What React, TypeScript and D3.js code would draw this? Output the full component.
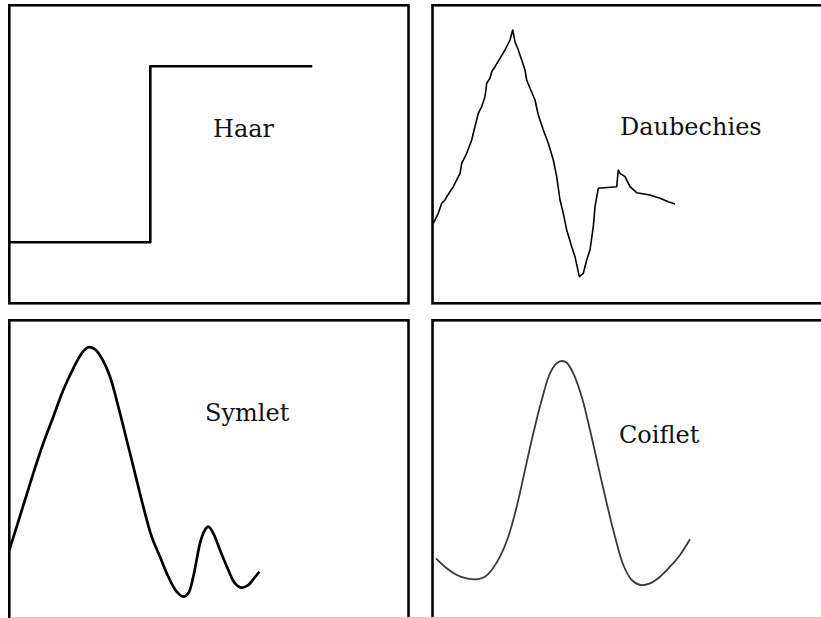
import React from "react";
import * as d3 from "d3";

// Wavelet shapes (x: samples across panel, y: amplitude units)
const haarX = [0, 141, 141, 303];
const haarY = [61, 61, 237, 237];

const daubX = [0.8, 5.8, 9.2, 12.5, 14.2, 20.8, 27.5, 29.2, 34.2, 39.2, 40.8, 45.8, 49.2, 52.5, 54.2, 57.5, 59.2, 62.5, 67.5, 72.5, 77.5, 80.2, 82.5, 85.8, 89.2, 92.5, 94.2, 97.5, 102.5, 105.8, 110.8, 115.8, 120.8, 124.2, 127.5, 130.8, 134.2, 139.2, 142.5, 146.8, 150.8, 154.2, 157.5, 160.8, 162.5, 165.8, 184.2, 185.8, 187.5, 192.5, 197.5, 204.2, 217.5, 227.5, 235.8, 242.5];
const daubY = [80, 90, 100, 103.3, 106.6, 116.6, 130, 140, 150, 163.3, 170, 190, 196.6, 206.6, 220, 225, 231.6, 236.6, 245, 253.3, 263.3, 273.3, 261.6, 253.3, 243.3, 233.3, 223.3, 215, 203.3, 188.3, 173.3, 160, 143.3, 126.6, 103.3, 90, 73.3, 56.6, 46.6, 26.6, 30, 43.3, 53.3, 76.6, 96.6, 115, 116.6, 133.3, 130, 126.6, 116.6, 110.6, 108.3, 105, 101.6, 99.3];

const symX = [0, 7.4, 15.7, 24, 34, 44, 54, 64, 72.4, 79, 85.7, 92.4, 100.7, 109, 117.4, 125.7, 134, 142.4, 150.7, 159, 167.4, 174, 179, 184, 190.7, 194.7, 199, 204, 210.7, 219, 225.7, 232.4, 239, 244, 250];
const symY = [68.3, 91.6, 118.3, 145, 175, 201.6, 228.3, 250, 265, 271, 269, 260, 241.6, 211.6, 178.3, 145, 111.6, 81.6, 61.6, 41.6, 26.6, 21.6, 25, 41.6, 75, 86.6, 91.6, 85, 68.3, 48.3, 35, 30.6, 33.3, 39, 46.6];

const coifX = [3.5, 14.2, 24.2, 34.2, 44.2, 52.5, 59.2, 67.5, 75.8, 84.2, 92.5, 100.8, 109.2, 117.5, 124.2, 129.2, 134.2, 140.8, 149.2, 157.5, 165.8, 174.2, 182.5, 190.8, 199.2, 207.5, 217.5, 227.5, 237.5, 247.5, 257.5];
const coifY = [60, 50, 43.3, 40, 39, 41.6, 48.3, 61.6, 81.6, 111.6, 148.3, 185, 218.3, 245, 255, 257.3, 255.6, 245, 221.6, 188.3, 151.6, 115, 81.6, 53.3, 38.3, 33.3, 35, 41.6, 51.6, 63.3, 79];

const labels = ["Haar", "Daubechies", "Symlet", "Coiflet"];

const PW = 399.2;
const PH = 298;
const panels = [
  { left: 9.3, top: 5.3, xs: haarX, ys: haarY, curve: d3.curveLinear, sw: 2.6, color: "#000", lx: 213, ly: 137 },
  { left: 432.5, top: 5.3, xs: daubX, ys: daubY, curve: d3.curveLinear, sw: 1.6, color: "#000", lx: 620, ly: 135 },
  { left: 9.3, top: 320.3, xs: symX, ys: symY, curve: d3.curveCatmullRom, sw: 2.7, color: "#000", lx: 205, ly: 421 },
  { left: 432.5, top: 320.3, xs: coifX, ys: coifY, curve: d3.curveCatmullRom, sw: 1.8, color: "#3a3a3a", lx: 619, ly: 443 },
];

export default function App() {
  return (
    <svg
      width={821}
      height={618}
      style={{ position: "absolute", left: 0, top: 0, background: "#fff" }}
    >
      <rect x={0} y={0} width={821} height={618} fill="#fff" />
      {panels.map((p, i) => {
        const x = d3.scaleLinear().domain([0, PW]).range([p.left, p.left + PW]);
        const y = d3.scaleLinear().domain([0, PH]).range([p.top + PH, p.top]);
        const pts = p.xs.map((v, k) => [v, p.ys[k]] as [number, number]);
        const line = d3
          .line<[number, number]>()
          .x((d) => x(d[0]))
          .y((d) => y(d[1]))
          .curve(p.curve);
        return (
          <g key={i}>
            <rect
              x={p.left}
              y={p.top}
              width={PW}
              height={PH}
              fill="none"
              stroke="#000"
              strokeWidth={2.6}
            />
            <path
              d={line(pts) || ""}
              fill="none"
              stroke={p.color}
              strokeWidth={p.sw}
              strokeLinejoin="round"
              strokeLinecap="butt"
            />
            <text
              x={p.lx}
              y={p.ly}
              fontFamily="DejaVu Serif"
              fontSize={24}
              fill="#111"
            >
              {labels[i]}
            </text>
          </g>
        );
      })}
      <line x1={10} x2={821} y1={617.5} y2={617.5} stroke="#d0d0d0" strokeWidth={1} />
    </svg>
  );
}
